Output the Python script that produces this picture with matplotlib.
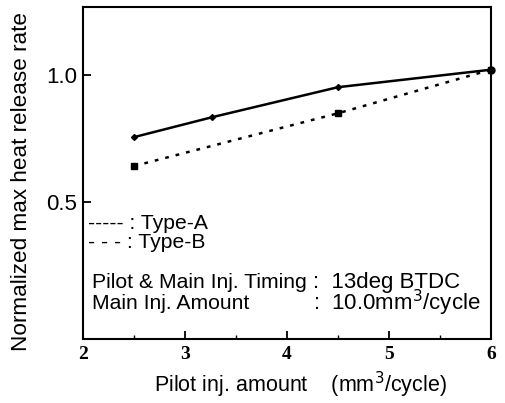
import matplotlib
matplotlib.use("Agg")
import matplotlib.pyplot as plt
from matplotlib.ticker import MultipleLocator

# values
type_a_x = [2.5, 3.27, 4.5, 6.0]
type_a_y = [0.756, 0.835, 0.953, 1.022]
type_b_x = [2.5, 4.5, 6.0]
type_b_y = [0.642, 0.85, 1.022]

x_ticks = [2, 3, 4, 5, 6]
y_ticks = [0.5, 1.0]

plt.rcParams['font.family'] = ['Liberation Sans', 'DejaVu Sans']

fig = plt.figure(figsize=(5.06, 4.03), dpi=100)
ax = fig.add_axes([0.164, 0.159, 0.806, 0.824])

ax.plot(type_a_x, type_a_y, color='black', lw=1.8, marker='D', ms=3)
ax.plot(type_b_x, type_b_y, color='black', lw=1.8, ls=(0, (1.5, 2.8)),
        marker='s', ms=4)
ax.plot([6.0], [1.022], 'o', color='black', ms=5, clip_on=False)

ax.set_xlim(2, 6)
ax.set_ylim(-0.04, 1.27)
ax.set_xticks(x_ticks)
ax.xaxis.set_minor_locator(MultipleLocator(0.5))
ax.set_yticks(y_ticks)
ax.set_yticklabels(['0.5', '1.0'], fontsize=16)
ax.set_xticklabels([str(v) for v in x_ticks], family='Liberation Serif',
                   fontweight='bold', fontsize=14)
ax.tick_params(axis='both', which='major', direction='in', length=6, width=1.3)
ax.tick_params(axis='x', which='minor', direction='in', length=3, width=1)
ax.tick_params(axis='x', pad=5)
ax.tick_params(axis='y', pad=4)
for s in ax.spines.values():
    s.set_linewidth(1.5)

ax.set_ylabel('Normalized max heat release rate', fontsize=16.2)
ax.yaxis.set_label_coords(-0.125, 0.474)
fig.text(0.594, 0.045, 'Pilot inj. amount    (mm$^3$/cycle)', fontsize=15.5,
         ha='center', va='center')

txt = dict(transform=ax.transAxes, fontsize=15.2, va='center')
ax.text(0.012, 0.349, '----- : Type-A', **txt)
ax.text(0.012, 0.289, '- - - : Type-B', **txt)
ax.text(0.022, 0.169, 'Pilot & Main Inj. Timing', **txt)
ax.text(0.022, 0.108, 'Main Inj. Amount', **txt)
# right column reads a bit wider in the scan
ax.text(0.565, 0.169, ':  13deg BTDC', transform=ax.transAxes, fontsize=16,
        va='center')
ax.text(0.565, 0.108, ':  10.0mm$^3$/cycle', transform=ax.transAxes,
        fontsize=16, va='center')

fig.savefig('out.png', dpi=100)
